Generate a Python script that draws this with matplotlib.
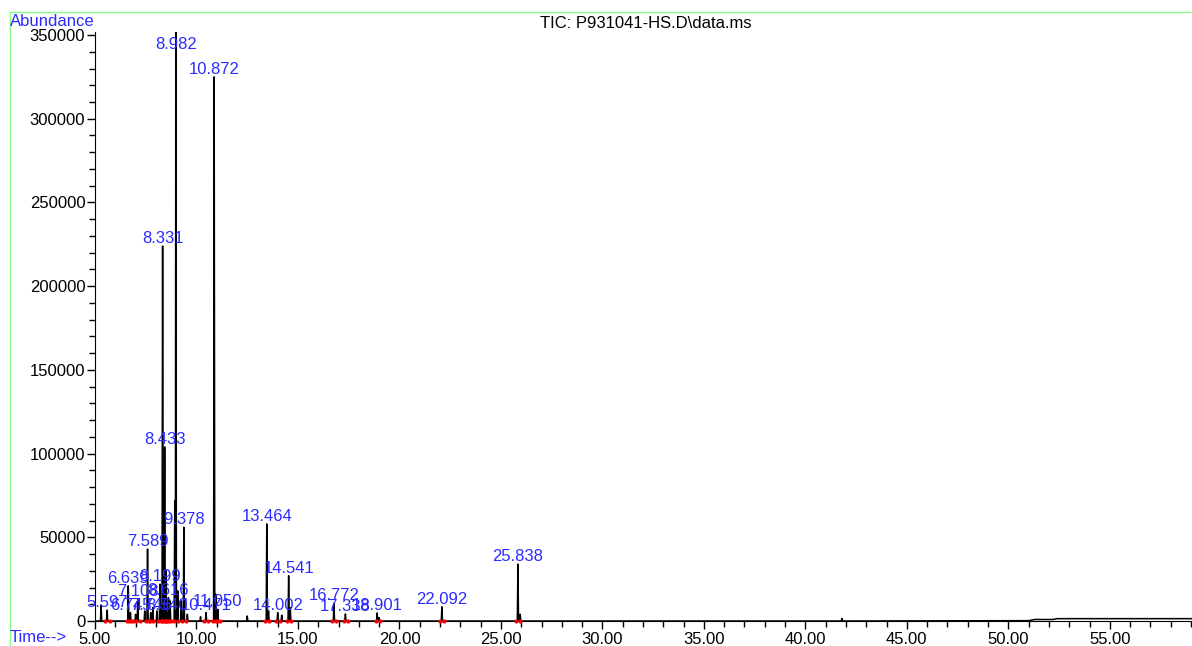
import matplotlib
matplotlib.use("Agg")
import matplotlib.pyplot as plt
from matplotlib.lines import Line2D
from matplotlib.ticker import MultipleLocator, FormatStrFormatter
import numpy as np

plt.rcParams["font.family"] = ["Liberation Sans", "DejaVu Sans"]

# labelled peaks: retention time (min), apex abundance
peak_rt = [5.597, 6.639, 6.745, 7.108, 7.589, 7.746, 8.199, 8.331, 8.433,
           8.540, 8.616, 8.982, 9.378, 10.471, 10.872, 11.050, 13.464,
           14.002, 14.541, 16.772, 17.338, 18.901, 22.092, 25.838]
peak_height = [6500, 21000, 5000, 13000, 43000, 5000, 22000, 224000, 104000,
               5000, 14000, 352000, 56000, 5000, 325000, 7000, 58000,
               5000, 27000, 10500, 4200, 4800, 8500, 34000]
peak_label = ["5.597", "6.639", "6.745", "7.108", "7.589", "7.746", "8.199",
              "8.331", "8.433", "8.540", "8.616", "8.982", "9.378", "10.471",
              "10.872", "11.050", "13.464", "14.002", "14.541", "16.772",
              "17.338", "18.901", "22.092", "25.838"]

# smaller unlabelled peaks
minor_rt = [5.30, 7.00, 7.45, 7.85, 8.05, 8.25, 8.50, 8.70, 8.93, 9.08,
            9.25, 9.55, 10.20, 10.95, 12.50, 13.55, 14.20, 14.62, 19.00,
            25.95, 41.80]
minor_height = [9500, 4000, 6000, 8000, 6000, 9000, 30000, 12000, 72000,
                18000, 12000, 4000, 2500, 16000, 3000, 6000, 3500, 8000,
                2000, 4000, 1500]

# baseline drift at the end of the run
base_t = [5.0, 51.0, 51.3, 52.2, 52.4, 59.1]
base_y = [0, 200, 900, 900, 1400, 1400]

BLUE = "#2b2bff"

fig = plt.figure(figsize=(11.92, 6.46), dpi=100)
ax = fig.add_axes([95 / 1192, 25 / 646, 1 - 95 / 1192, (621 - 31.7) / 646])

# build the trace: narrow triangular peaks on top of the baseline
half_w = 0.03
pts = [(t, y) for t, y in zip(base_t, base_y)]
for t, h in zip(list(peak_rt) + minor_rt, list(peak_height) + minor_height):
    pts += [(t - half_w, 0), (t, h), (t + half_w, 0)]
pts.sort(key=lambda p: p[0])
tt = np.array([p[0] for p in pts])
yy = np.array([p[1] for p in pts])
ax.plot(tt, yy, color="black", lw=1.1)

# integration markers at peak bases
for t in peak_rt:
    ax.plot([t - 0.08, t + 0.12], [0, 0], ls="none", marker="o", ms=2,
            color="red", clip_on=False, zorder=3)

for t, h, lab in zip(peak_rt, peak_height, peak_label):
    ax.text(t, min(h, 340000), lab, ha="center", va="bottom", color=BLUE,
            fontsize=12)

ax.set_xlim(5.0, 59.05)
ax.set_ylim(0, 352000)
for s in ["top", "right"]:
    ax.spines[s].set_visible(False)
ax.xaxis.set_major_locator(MultipleLocator(5))
ax.xaxis.set_minor_locator(MultipleLocator(1))
ax.xaxis.set_major_formatter(FormatStrFormatter("%.2f"))
ax.yaxis.set_major_locator(MultipleLocator(50000))
ax.yaxis.set_minor_locator(MultipleLocator(10000))
ax.yaxis.set_major_formatter(FormatStrFormatter("%d"))
ax.tick_params(which="major", length=6, width=1, labelsize=12, pad=1,
               colors="black")
ax.tick_params(which="minor", length=4, width=1)
ax.tick_params(axis="x", pad=2)

# frame and header text
fig.add_artist(Line2D([10 / 1192, 1.0], [1 - 12 / 646] * 2,
                      color="#88ff88", lw=1))
fig.add_artist(Line2D([10 / 1192] * 2, [0, 1 - 12 / 646],
                      color="#88ff88", lw=1))
fig.text(10 / 1192, 1 - 22 / 646, "Abundance", color=BLUE, fontsize=12,
         va="center", ha="left")
fig.text(10 / 1192, 1 - 638 / 646, "Time-->", color=BLUE, fontsize=12,
         va="center", ha="left")
fig.text(540 / 1192, 1 - 24 / 646, "TIC: P931041-HS.D\\data.ms",
         color="black", fontsize=12, va="center", ha="left")

fig.savefig("out.png", dpi=100)
